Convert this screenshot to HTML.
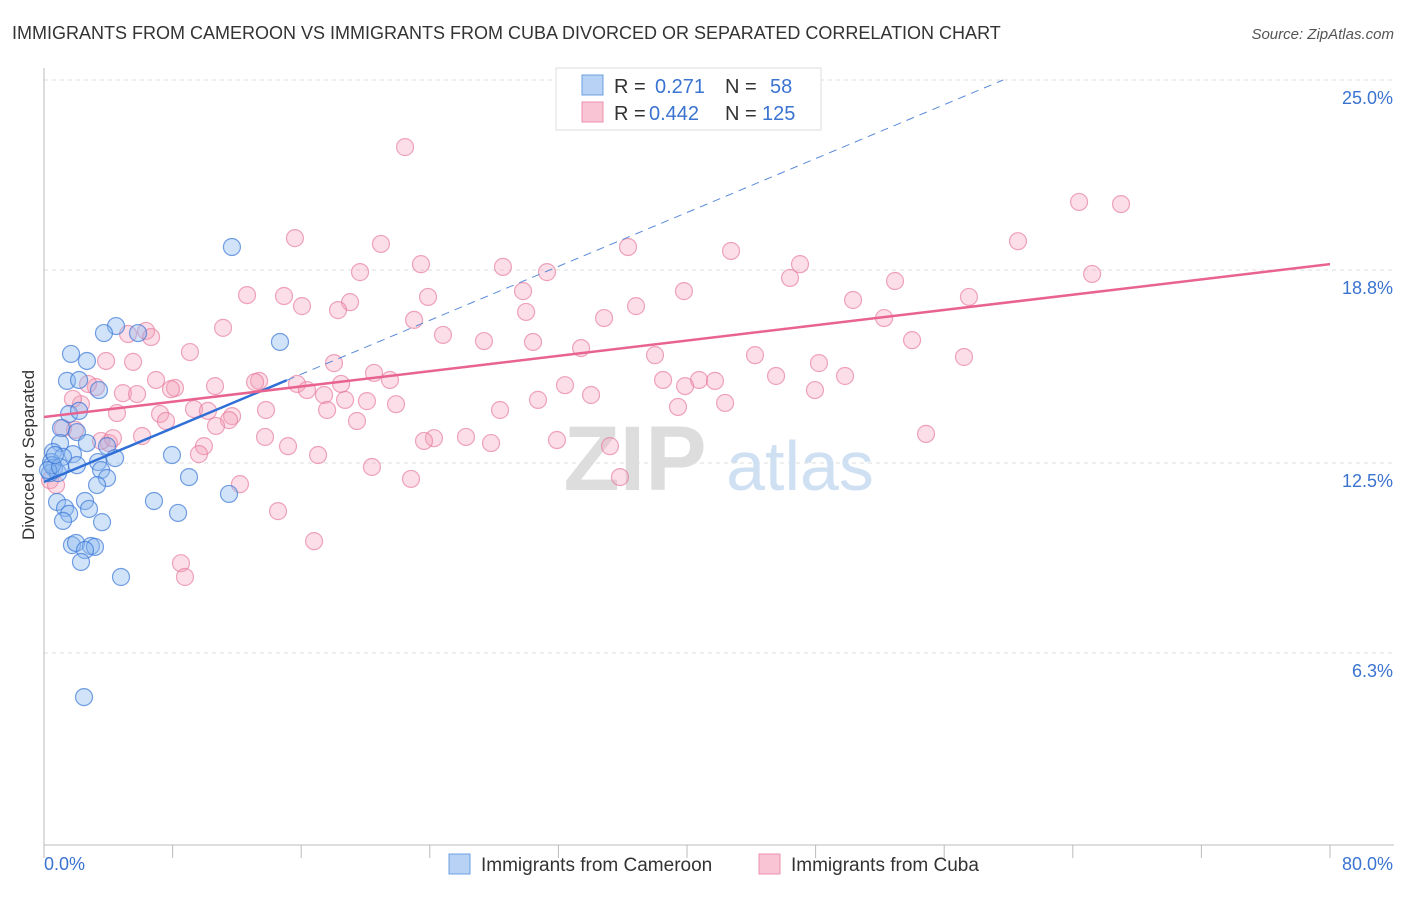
<!DOCTYPE html>
<html><head><meta charset="utf-8"><style>
body{margin:0;background:#fff;font-family:"Liberation Sans",sans-serif;}
svg text{font-family:"Liberation Sans",sans-serif;}
</style></head><body>
<svg id="chart" width="1406" height="892" viewBox="0 0 1406 892" xmlns="http://www.w3.org/2000/svg">
<text x="12" y="39" font-size="18" fill="#333">IMMIGRANTS FROM CAMEROON VS IMMIGRANTS FROM CUBA DIVORCED OR SEPARATED CORRELATION CHART</text>
<text x="1394" y="39" font-size="15" fill="#555" text-anchor="end" font-style="italic">Source: ZipAtlas.com</text>
<g id="grid"></g>
<g>
<text x="635" y="490" font-size="92" font-family="Liberation Serif" fill="#ddd" text-anchor="middle" font-weight="bold">ZIP</text>
<text x="800" y="490" font-size="70" fill="#cfe0f3" text-anchor="middle">atlas</text>
</g>
<g id="points"></g>
<g id="lines"></g>
<text transform="translate(34,455) rotate(-90)" font-size="17" fill="#333" text-anchor="middle">Divorced or Separated</text>
<g>
<rect x="556" y="68" width="265" height="62" fill="#fff" stroke="#ddd"/>
<rect x="582" y="75" width="21" height="20" fill="#b7d2f5" stroke="#6a9fe0"/>
<rect x="582" y="102" width="21" height="20" fill="#f9c5d4" stroke="#ec8fab"/>
<text x="614" y="93" font-size="20" fill="#333">R =</text><text x="655" y="93" font-size="20" fill="#3a73d0">0.271</text>
<text x="725" y="93" font-size="20" fill="#333">N =</text><text x="770" y="93" font-size="20" fill="#3a73d0">58</text>
<text x="614" y="120" font-size="20" fill="#333">R =</text><text x="649" y="120" font-size="20" fill="#3a73d0">0.442</text>
<text x="725" y="120" font-size="20" fill="#333">N =</text><text x="762" y="120" font-size="20" fill="#3a73d0">125</text>
</g>
<g>
<rect x="449" y="854" width="21" height="20" fill="#b7d2f5" stroke="#6a9fe0"/>
<text x="481" y="871" font-size="19" fill="#333">Immigrants from Cameroon</text>
<rect x="759" y="854" width="21" height="20" fill="#f9c5d4" stroke="#ec8fab"/>
<text x="791" y="871" font-size="19" fill="#333">Immigrants from Cuba</text>
</g>
</svg>
<script>
const yTicks=[25.0,18.8,12.5,6.3];
const yTickLabels=["25.0%","18.8%","12.5%","6.3%"];
const xTicks=[0,8,16,24,32,40,48,56,64,72,80];
const xEndLabels=["0.0%","80.0%"];
const cameroonX=[11.69,14.68,4.48,3.73,5.85,1.68,2.67,1.43,2.18,3.42,1.56,2.18,1.06,2.05,2.67,1.00,3.92,0.56,1.80,1.18,0.44,3.36,4.42,2.05,3.55,0.62,0.37,3.92,0.87,7.96,9.02,3.30,2.55,0.81,6.84,11.51,1.31,2.80,8.34,1.56,1.18,3.61,1.74,1.99,2.92,3.17,2.55,2.30,4.79,2.49,0.50,0.25,1.00,0.68];
const cameroonY=[19.55,16.45,16.97,16.74,16.74,16.06,15.83,15.18,15.21,14.88,14.10,14.20,13.64,13.51,13.15,13.15,13.05,12.86,12.79,12.70,12.53,12.53,12.66,12.43,12.27,12.34,12.17,12.01,12.17,12.76,12.04,11.78,11.26,11.23,11.26,11.49,11.03,11.00,10.87,10.84,10.61,10.57,9.82,9.89,9.79,9.76,9.66,9.27,8.78,4.86,12.43,12.27,12.37,12.76];
const cubaX=[22.46,64.39,67.00,15.61,20.96,36.33,42.74,60.59,23.45,28.55,31.29,19.66,65.20,47.03,46.41,52.94,29.80,12.63,14.93,23.89,39.81,19.04,16.05,18.29,36.83,57.54,50.33,29.99,23.02,34.84,52.26,11.14,6.35,5.23,6.66,24.82,27.37,30.42,54.00,33.41,9.08,38.01,44.23,57.23,5.54,3.86,18.04,48.21,20.53,21.52,49.83,6.97,13.38,13.13,38.51,45.54,40.75,41.74,15.74,8.15,18.48,32.41,39.88,3.23,2.74,10.64,16.36,7.90,4.91,5.79,17.42,18.73,20.09,21.90,30.73,34.03,47.96,42.37,2.30,1.80,9.33,10.20,13.81,17.61,28.37,39.44,7.22,11.70,4.54,11.51,19.47,7.59,10.70,6.10,13.75,1.93,1.18,4.04,15.18,24.26,26.25,27.81,31.91,35.21,54.87,9.95,9.64,17.05,20.40,22.83,35.83,12.19,14.56,16.80,8.52,8.77,0.37,0.75,23.64,3.55,4.29];
const cubaY=[22.81,21.02,20.95,19.84,19.65,19.55,19.42,19.74,18.99,18.90,18.73,18.73,18.67,18.99,18.54,18.44,18.11,17.98,17.95,17.92,18.11,17.75,17.62,17.49,17.62,17.92,17.82,17.43,17.17,17.23,17.23,16.91,16.81,16.71,16.61,16.68,16.48,16.45,16.51,16.25,16.12,16.02,16.02,15.96,15.80,15.83,15.76,15.76,15.44,15.21,15.34,15.21,15.18,15.14,15.21,15.34,15.21,15.18,15.08,14.95,15.08,15.04,15.01,14.98,15.08,15.01,14.88,14.91,14.78,14.75,14.72,14.56,14.52,14.42,14.56,14.72,14.88,14.46,14.42,14.59,14.26,14.20,14.23,14.23,14.23,14.33,14.10,14.03,14.13,13.90,13.87,13.87,13.71,13.38,13.35,13.58,13.64,13.15,13.05,13.31,13.35,13.15,13.25,13.05,13.45,13.05,12.79,12.76,12.37,11.98,12.04,11.81,10.93,9.95,9.23,8.78,11.94,11.78,13.22,13.22,13.31];
const cameroonTrend=[11.88,0.2199];
const cubaTrend=[14.0,0.0624];

const NS="http://www.w3.org/2000/svg";
const X0=44,X1=1330,Ytop=80,Ybot=846;
function sx(v){return X0+(v/80)*(X1-X0);}
function sy(v){return Ybot-(v/25)*(Ybot-Ytop);}
function mk(tag,attrs,parent){const e=document.createElementNS(NS,tag);for(const k in attrs)e.setAttribute(k,attrs[k]);parent.appendChild(e);return e;}
const grid=document.getElementById('grid');
yTicks.forEach((t,i)=>{
  const l=mk('line',{x1:X0,x2:1394,y1:sy(t),y2:sy(t),stroke:'#ddd','stroke-dasharray':'4,4'},grid);
  
  
  const tx=mk('text',{x:1393,y:sy(t)+24,'font-size':18,fill:'#3a73d0','text-anchor':'end'},grid);
  tx.textContent=yTickLabels[i];
  
  
});
const ax=mk('line',{x1:X0,x2:1394,y1:Ybot-1,y2:Ybot-1,stroke:'#bbb'},grid);


const ay=mk('line',{x1:X0,x2:X0,y1:68,y2:Ybot,stroke:'#bbb'},grid);


xTicks.forEach(t=>{
  const l=mk('line',{x1:sx(t),x2:sx(t),y1:Ybot-1,y2:Ybot+12,stroke:'#bbb'},grid);
  
  
});
const xl0=mk('text',{x:44,y:870,'font-size':18,fill:'#3a73d0'},grid);xl0.textContent=xEndLabels[0];


const xl1=mk('text',{x:1393,y:870,'font-size':18,fill:'#3a73d0','text-anchor':'end'},grid);xl1.textContent=xEndLabels[1];



const pts=document.getElementById('points');
cubaX.forEach((x,i)=>{
  const c=mk('circle',{cx:sx(x),cy:sy(cubaY[i]),r:8.5,fill:'rgba(244,160,186,0.35)',stroke:'rgba(230,120,155,0.65)','stroke-width':1.2},pts);
  
  
});
cameroonX.forEach((x,i)=>{
  const c=mk('circle',{cx:sx(x),cy:sy(cameroonY[i]),r:8.5,fill:'rgba(140,185,240,0.4)',stroke:'rgba(60,120,215,0.7)','stroke-width':1.2},pts);
  
  
});
const lines=document.getElementById('lines');
const cEnd=(25-cameroonTrend[0])/cameroonTrend[1];
const bs=mk('line',{x1:sx(0),y1:sy(cameroonTrend[0]),x2:sx(15.1),y2:sy(cameroonTrend[0]+cameroonTrend[1]*15.1),stroke:'#2f6fd6','stroke-width':2.5},lines);


const bd=mk('line',{x1:sx(15.1),y1:sy(cameroonTrend[0]+cameroonTrend[1]*15.1),x2:sx(cEnd),y2:sy(25),stroke:'#5a8ad8','stroke-width':1,'stroke-dasharray':'8,6'},lines);


const pl=mk('line',{x1:sx(0),y1:sy(cubaTrend[0]),x2:sx(80),y2:sy(cubaTrend[0]+cubaTrend[1]*80),stroke:'#e8638f','stroke-width':2.5},lines);


</script>
</body></html>
